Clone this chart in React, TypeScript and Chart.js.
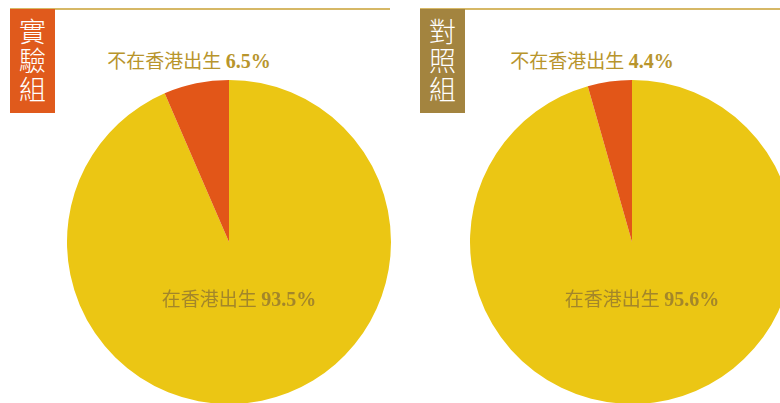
import React, { useEffect, useRef } from "react";
import { Chart, registerables } from "chart.js";

Chart.register(...registerables);

const groupNames = ["實驗組", "對照組"];
const categories = ["在香港出生", "不在香港出生"];
const experimentValues = [93.5, 6.5];
const controlValues = [95.6, 4.4];
const sliceColors = ["#EBC614", "#E25618"];
const boxColors = ["#E05A1C", "#A3843F"];

const R = 162;

function Pie({ values, left, top }: { values: number[]; left: number; top: number }) {
  const ref = useRef<HTMLCanvasElement>(null);
  useEffect(() => {
    if (!ref.current) return;
    const chart = new Chart(ref.current, {
      type: "pie",
      data: {
        labels: categories,
        datasets: [
          {
            data: values,
            backgroundColor: sliceColors,
            borderWidth: 0,
          },
        ],
      },
      options: {
        responsive: false,
        maintainAspectRatio: false,
        animation: false,
        layout: { padding: 0 },
        plugins: {
          legend: { display: false },
          tooltip: { enabled: false },
        },
      },
    });
    return () => chart.destroy();
  }, []);
  return (
    <canvas
      ref={ref}
      width={R * 2}
      height={R * 2}
      style={{ position: "absolute", left, top, width: R * 2, height: R * 2 }}
    />
  );
}

function Panel({
  name,
  values,
  boxColor,
  offsetX,
  lineEnd,
  cx,
}: {
  name: string;
  values: number[];
  boxColor: string;
  offsetX: number;
  lineEnd: number;
  cx: number;
}) {
  const cy = 242;
  return (
    <>
      <div
        style={{
          position: "absolute",
          left: offsetX,
          top: 8,
          width: lineEnd - offsetX,
          height: 1.5,
          background: "#D6B866",
        }}
      />
      <div
        style={{
          position: "absolute",
          left: offsetX,
          top: 9,
          width: 45,
          height: 104,
          background: boxColor,
          color: "#FFFFFF",
          fontFamily: "'Noto Sans CJK TC', sans-serif",
          fontWeight: 300,
          fontSize: 27,
          lineHeight: "29px",
          textAlign: "center",
          paddingTop: 7,
          boxSizing: "border-box",
        }}
      >
        {name.split("").map((c, i) => (
          <div key={i}>{c}</div>
        ))}
      </div>
      <Pie values={values} left={cx - R} top={cy - R} />
      <div
        style={{
          position: "absolute",
          left: cx - 160,
          top: 48,
          width: 240,
          textAlign: "center",
          color: "#B8952C",
          fontSize: 19,
          lineHeight: "24px",
          whiteSpace: "nowrap",
        }}
      >
        <span style={{ fontFamily: "'Noto Sans CJK TC', sans-serif" }}>{categories[1]} </span>
        <span style={{ fontFamily: "'Liberation Serif', serif", fontWeight: 700, fontSize: 20 }}>
          {values[1]}%
        </span>
      </div>
      <div
        style={{
          position: "absolute",
          left: cx - 110,
          top: 286,
          width: 240,
          textAlign: "center",
          color: "#A3862A",
          fontSize: 19,
          lineHeight: "24px",
          whiteSpace: "nowrap",
        }}
      >
        <span style={{ fontFamily: "'Noto Sans CJK TC', sans-serif" }}>{categories[0]} </span>
        <span style={{ fontFamily: "'Liberation Serif', serif", fontWeight: 700, fontSize: 20 }}>
          {values[0]}%
        </span>
      </div>
    </>
  );
}

export default function App() {
  return (
    <div
      style={{
        position: "fixed",
        left: 0,
        top: 0,
        width: 780,
        height: 403,
        overflow: "hidden",
        background: "#FFFFFF",
      }}
    >
      <Panel name={groupNames[0]} values={experimentValues} boxColor={boxColors[0]} offsetX={10} lineEnd={390} cx={229} />
      <Panel name={groupNames[1]} values={controlValues} boxColor={boxColors[1]} offsetX={420} lineEnd={780} cx={632} />
    </div>
  );
}
